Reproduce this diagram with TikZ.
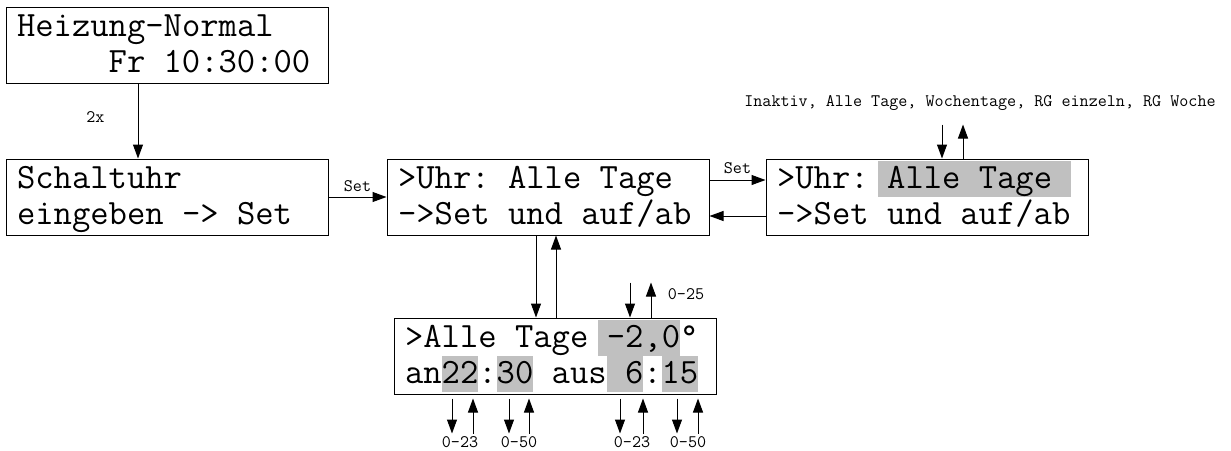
\documentclass[tikz,border=0pt]{standalone}
\usepackage{fontspec}
\usepackage{tikz}
\usetikzlibrary{arrows.meta,positioning}
\definecolor{hlgray}{RGB}{192,192,192}
\newcommand{\vstrut}{\rule[-8.5pt]{0pt}{36pt}}
\newcommand{\spc}{\hphantom{x}}
\newcommand{\hlt}[1]{{\setlength{\fboxsep}{0pt}\colorbox{hlgray}{\vstrut#1}}}

\begin{document}
\begin{tikzpicture}[x=1pt, y=1pt,
  lcd/.style={draw, line width=1pt, inner xsep=11pt, inner ysep=2pt, text width=300pt, align=left,
    font=\ttfamily\fontsize{35.6}{36}\selectfont,
    execute at begin node=\vstrut, execute at end node=\vstrut},
  arr/.style={-{Triangle[length=14pt,width=10pt]}, line width=1pt},
  lab/.style={font=\ttfamily\fontsize{17.6}{18}\selectfont, inner sep=0pt}
]
\useasboundingbox (0,0) rectangle (1231,-450);

\node[lcd] (heiz) at (167,-45) {Heizung-Normal\\\hphantom{Heizu}Fr\spc 10:30:00};
\node[lcd, below=75pt of heiz] (schalt) {Schaltuhr\\eingeben\spc->\spc Set};
\node[lcd, right=58pt of schalt] (uhr) {>Uhr:\spc Alle\spc Tage\\->Set\spc und\spc auf/ab};
\node[lcd, right=56pt of uhr] (uhrsel) {>Uhr:\kern0.26em\hlt{\kern0.26em Alle\spc Tage\spc}\\->Set\spc und\spc auf/ab};
\node[lcd, below=82pt of uhr, xshift=7pt] (tage) {>Alle\spc Tage\kern0.26em\hlt{\kern0.26em-2,0}°\\an\hlt{22}:\hlt{30}\spc aus\hlt{\spc 6}:\hlt{15}};

% labels
\node[lab, above=48pt of uhrsel.north, xshift=53pt] (modes) {Inaktiv,\spc Alle\spc Tage,\spc Wochentage,\spc RG\spc einzeln,\spc RG\spc Woche};
\node[lab, above=18pt of tage.north, xshift=131pt] (temp) {0-25};
\node[lab, below=42pt of tage.south, xshift=-95pt] (anstd) {0-23};
\node[lab, below=42pt of tage.south, xshift=-36pt] (anmin) {0-50};
\node[lab, below=42pt of tage.south, xshift=77pt] (ausstd) {0-23};
\node[lab, below=42pt of tage.south, xshift=133pt] (ausmin) {0-50};

\draw[arr] ([xshift=-29pt]heiz.south) -- node[lab, pos=0.45, left=33pt]{2x} ([xshift=-29pt]schalt.north);
\draw[arr] (schalt) -- node[lab, above=5pt]{Set} (uhr);
\draw[arr] ([yshift=17pt]uhr.east) -- node[lab, above=6pt]{Set} ([yshift=17pt]uhrsel.west);
\draw[arr] ([yshift=-19pt]uhrsel.west) -- ([yshift=-19pt]uhr.east);
\draw[arr] ([xshift=-12pt]uhr.south) -- ([xshift=-12pt]uhr.south |- tage.north);
\draw[arr] ([xshift=8pt]uhr.south |- tage.north) -- ([xshift=8pt]uhr.south);

% auf/ab
\draw[arr] ([xshift=15pt,yshift=34pt]uhrsel.north) -- ([xshift=15pt]uhrsel.north);
\draw[arr] ([xshift=36pt]uhrsel.north) -- ([xshift=36pt,yshift=34pt]uhrsel.north);
\draw[arr] ([xshift=75pt,yshift=35pt]tage.north) -- ([xshift=75pt]tage.north);
\draw[arr] ([xshift=96pt]tage.north) -- ([xshift=96pt,yshift=35pt]tage.north);
\foreach \dx/\ux in {-103/-82, -46/-26, 65/88, 122/143} {
  \draw[arr] ([xshift=\dx pt,yshift=-4pt]tage.south) -- ([xshift=\dx pt,yshift=-39pt]tage.south);
  \draw[arr] ([xshift=\ux pt,yshift=-39pt]tage.south) -- ([xshift=\ux pt,yshift=-4pt]tage.south);
}
\end{tikzpicture}
\end{document}
